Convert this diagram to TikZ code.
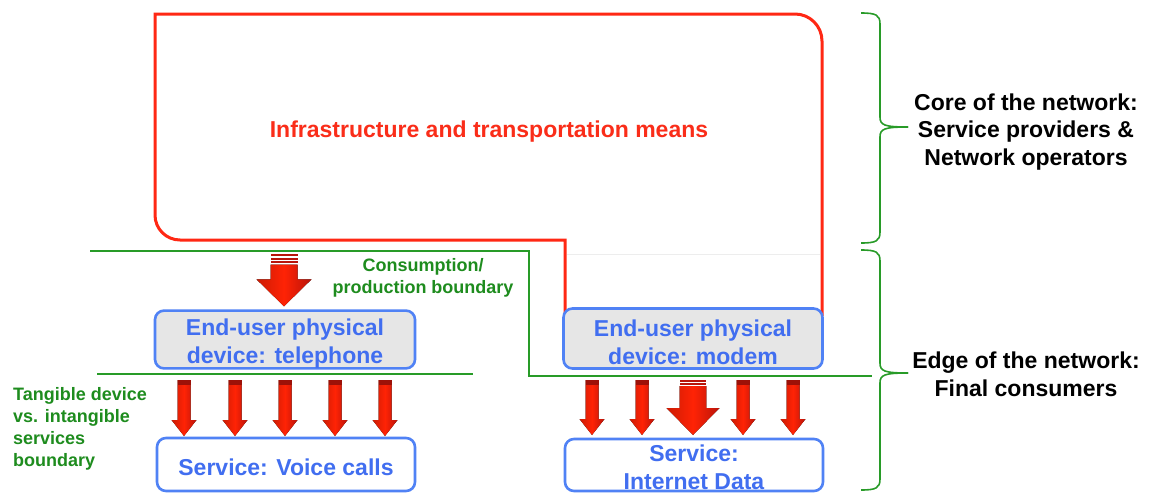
\documentclass[tikz,border=0pt]{standalone}
\usepackage{fontspec}
\setmainfont{Liberation Sans}
\usetikzlibrary{calc}
\definecolor{redline}{RGB}{255,40,20}
\definecolor{redtext}{RGB}{250,45,25}
\definecolor{gline}{RGB}{40,155,40}
\definecolor{gtext}{RGB}{30,140,30}
\definecolor{bborder}{RGB}{80,130,245}
\definecolor{btext}{RGB}{65,110,240}
\definecolor{boxgray}{RGB}{230,230,230}
\definecolor{arrred}{RGB}{255,35,5}
\definecolor{arrdark}{RGB}{185,20,10}
% #1 start coord, #2 tip coord, #3 shaft half width, #4 head half width, #5 head length
\newcommand{\blockarrow}[5]{%
  \fill[left color=arrred!80!black, right color=arrdark, middle color=arrred]
    let \p1=(#1), \p2=(#2) in
    (\x1-#3,\y1) -- (\x1+#3,\y1) -- (\x1+#3,\y2+#5) -- (\x1+#4,\y2+#5)
    -- (\x1,\y2) -- (\x1-#4,\y2+#5) -- (\x1-#3,\y2+#5) -- cycle;}
\begin{document}
\begin{tikzpicture}[x=1pt,y=-1pt,
  redpath/.style={draw=redline, line width=3pt},
  gpath/.style={draw=gline, line width=2.7pt},
  bracepath/.style={draw=gline, line width=1.6pt},
  devbox/.style={draw=bborder, fill=boxgray, line width=2.6pt, rounded corners=9pt,
    text=btext, font=\fontsize{23}{28}\selectfont\bfseries, align=center, inner sep=0pt},
  servbox/.style={draw=bborder, fill=white, line width=2.6pt, rounded corners=9pt,
    text=btext, font=\fontsize{23}{28}\selectfont\bfseries, align=center, inner sep=0pt},
  gtxt/.style={text=gtext, font=\fontsize{18}{22}\selectfont\bfseries, inner sep=0pt},
  ktxt/.style={text=black, font=\fontsize{23}{27.5}\selectfont\bfseries, align=center, inner sep=0pt}]
\useasboundingbox (0,0) rectangle (1152,493);
\fill[white] (0,0) rectangle (1152,493);

% faint line
\draw[black!7, line width=1pt] (567,254) -- (820,254);

% infrastructure outline
\draw[redpath] (565,316) -- (565,240) [rounded corners=25pt] -- (155,240) [sharp corners] -- (155,14) [rounded corners=27pt] -- (822,14) [sharp corners] -- (822,316);
\node[text=redtext, font=\fontsize{23}{28}\selectfont\bfseries, inner sep=0pt] (infra) at (489,132) {Infrastructure and transportation means};

% boundaries
\draw[gpath] (90,251) -- (529,251) -- (529,376) -- (872,376);
\draw[gpath] (97,374) -- (473,374);

% boxes
\node[devbox, minimum width=260pt, minimum height=56pt] (tel) at (285,339.5) {\rule{0pt}{25pt}End-user physical\\device: telephone};
\node[devbox, minimum width=259pt, minimum height=60pt] (modem) at (693,338.5) {\rule{0pt}{25pt}End-user physical\\device: modem};
\node[servbox, minimum width=258pt, minimum height=53pt] (voice) at (286,464.5) {\rule{0pt}{23pt}Service: Voice calls};
\node[servbox, minimum width=258pt, minimum height=52pt] (inet) at (694,465) {};
\node[text=btext, font=\fontsize{23}{28}\selectfont\bfseries, align=center, inner sep=0pt] (inettxt) at (694,467) {Service:\\Internet Data};

% big arrow to telephone
\fill[arrdark] (270.5,254) rectangle (297.5,256);
\fill[arrdark] (270.5,257.5) rectangle (297.5,259.5);
\fill[arrdark] (270.5,261) rectangle (297.5,263);
\coordinate (ba1) at (284,264.5);
\coordinate (bb1) at ($(tel.north)+(-1,-3)$);
\blockarrow{ba1}{bb1}{13.5pt}{27.5pt}{27pt}

% small arrows telephone -> voice calls
\foreach \i/\x in {1/184,2/235,3/285,4/335,5/385}{
  \coordinate (ta\i) at (\x,380);
  \coordinate (tb\i) at (\x,436);
  \blockarrow{ta\i}{tb\i}{6.5pt}{12.5pt}{16pt}
  \fill[arrdark!85!black] (\x-6.5,380) rectangle (\x+6.5,385);
}

% arrows modem -> internet data
\foreach \i/\x in {1/592,2/642,4/743,5/793}{
  \coordinate (ma\i) at (\x,380);
  \coordinate (mb\i) at (\x,435);
  \blockarrow{ma\i}{mb\i}{6.5pt}{12.5pt}{16pt}
  \fill[arrdark!85!black] (\x-6.5,380) rectangle (\x+6.5,385);
}
\fill[arrdark] (679.7,380) rectangle (706.3,381.7);
\fill[arrdark] (679.7,383) rectangle (706.3,384.7);
\coordinate (ma3) at (693,386);
\coordinate (mb3) at (693,435);
\blockarrow{ma3}{mb3}{13.3pt}{26.5pt}{27pt}

% green labels
\node[gtxt, align=center] (cons) at (423,277.5) {Consumption/\\production boundary};
\node[gtxt, align=left, anchor=north west] (tang) at (13,387.5) {Tangible device\\vs. intangible\\services\\boundary};

% braces
\draw[bracepath] (861,13) .. controls (876,13) and (880,15) .. (880,24) -- (880,117) .. controls (880,125) and (884,127) .. (908,127);
\draw[bracepath] (908,127) .. controls (884,127) and (880,129) .. (880,137) -- (880,232) .. controls (880,241) and (876,243) .. (861,243);
\draw[bracepath] (861,250) .. controls (876,250) and (880,252) .. (880,261) -- (880,363) .. controls (880,371) and (884,373) .. (908,373);
\draw[bracepath] (908,373) .. controls (884,373) and (880,375) .. (880,383) -- (880,479) .. controls (880,488) and (876,490) .. (861,490);

% right labels
\node[ktxt] (core) at (1026,132) {Core of the network:\\Service providers \&\\Network operators};
\node[ktxt] (edge) at (1026,374.5) {Edge of the network:\\Final consumers};
\end{tikzpicture}
\end{document}
